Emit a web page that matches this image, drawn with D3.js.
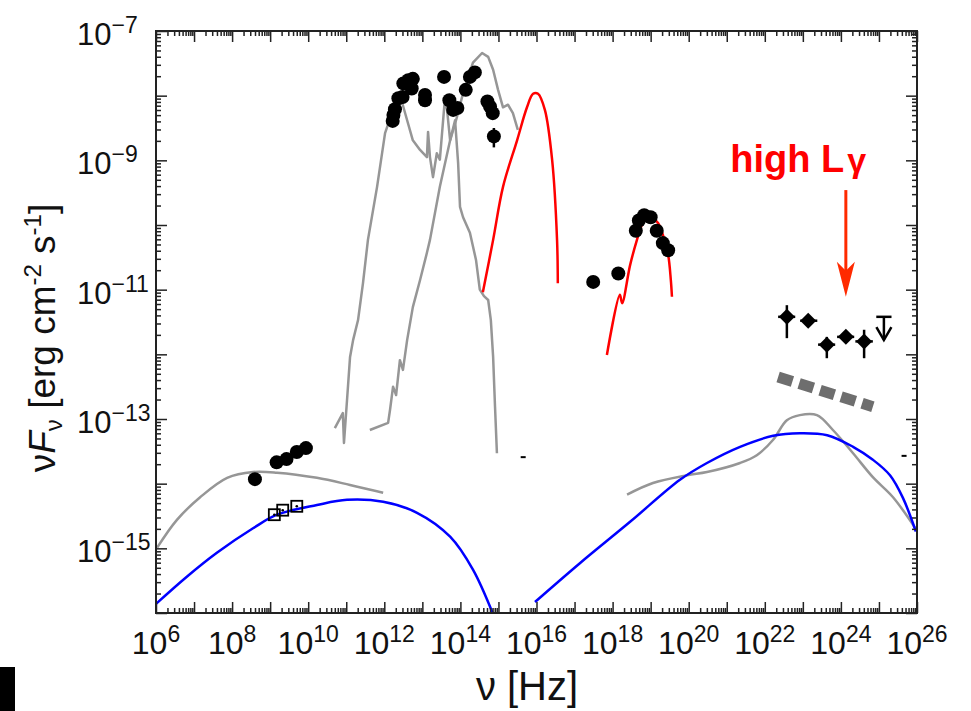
<!DOCTYPE html>
<html><head><meta charset="utf-8">
<script src="https://cdn.jsdelivr.net/npm/d3@7"></script>
<style>body{margin:0;background:#fff}svg{display:block}</style>
</head><body>
<svg id="c" width="971" height="711"></svg>
<script>
// ---------- DATA (log10 nu [Hz], log10 nuFnu [erg cm^-2 s^-1]) ----------
const xTickExps = [6, 8, 10, 12, 14, 16, 18, 20, 22, 24, 26];
const yTickExps = [-7, -9, -11, -13, -15];

const radioDots = [[8.60,-13.93],[9.17,-13.67],[9.43,-13.62],[9.70,-13.51],[9.94,-13.45]];
const radioSquares = [[9.11,-14.48],[9.33,-14.41],[9.70,-14.35]];

const irDots = [[12.22,-8.39],[12.24,-8.30],[12.28,-8.21],[12.37,-8.04],[12.48,-8.02],
  [12.50,-7.81],[12.63,-7.76],[12.75,-7.74],[12.72,-7.89],[13.07,-7.99],[13.07,-8.07],
  [13.57,-7.71],[13.71,-8.07],[13.81,-8.22],[13.92,-8.19],[14.14,-7.91],[14.25,-7.71],
  [14.38,-7.64],[14.71,-8.09],[14.78,-8.17],[14.85,-8.27],[14.88,-8.63]];
// [log nu, low, high]
const irErrors = [[14.71,-8.16,-8.03],[14.78,-8.25,-8.10],[14.85,-8.36,-8.20],[14.88,-8.80,-8.50]];

const xrayDots = [[17.49,-10.88],[18.15,-10.75],[18.61,-10.09],[18.69,-9.93],[18.83,-9.85],
  [19.00,-9.88],[19.16,-10.09],[19.32,-10.28],[19.46,-10.39]];

// gamma: nu, f, nuLo, nuHi, fLo, fHi
const gammaNu   = [22.58, 23.14, 23.63, 24.13, 24.61];
const gammaF    = [-11.42, -11.48, -11.85, -11.73, -11.80];
const gammaNuLo = [22.35, 22.93, 23.40, 23.90, 24.38];
const gammaNuHi = [22.80, 23.38, 23.85, 24.35, 24.84];
const gammaFLo  = [-11.75, -11.56, -12.06, -11.80, -12.06];
const gammaFHi  = [-11.24, -11.40, -11.73, -11.66, -11.62];
const gammaUL = {nu: 25.13, nuLo: 24.93, nuHi: 25.33, f: -11.42, fEnd: -11.78};

const fermiDashed = [[22.35,-12.35],[24.84,-12.81]];

const grayRadio = [[6.03,-14.99],[6.55,-14.56],[7.16,-14.21],[7.87,-13.91],[8.55,-13.82],
  [9.18,-13.83],[10.23,-13.91],[11.10,-14.02],[11.97,-14.14]];

const grayIR1 = [[10.70,-13.14],[10.91,-12.91],[10.94,-13.37],[11.02,-12.71],[11.10,-12.04],
  [11.18,-11.78],[11.31,-11.47],[11.44,-10.90],[11.57,-10.23],[11.81,-9.41],[12.02,-8.58],
  [12.20,-8.27],[12.33,-8.11],[12.47,-8.11],[12.60,-8.38],[12.75,-8.69],[12.94,-8.84],
  [13.12,-8.95],[13.15,-8.56],[13.20,-8.95],[13.28,-9.26],[13.38,-8.89],[13.46,-8.99],
  [13.59,-8.07],[13.65,-8.22],[13.73,-8.69],[13.86,-8.38],[13.94,-9.04],[13.99,-9.72],
  [14.07,-9.88],[14.25,-10.12],[14.41,-10.54],[14.51,-11.00],[14.62,-11.10],[14.73,-11.16],
  [14.80,-11.47],[14.86,-12.04],[14.91,-12.81],[14.96,-13.53]];

const grayIR2 = [[11.62,-13.17],[12.10,-13.06],[12.15,-12.86],[12.23,-12.50],[12.31,-12.63],
  [12.41,-12.09],[12.49,-12.24],[12.60,-11.78],[12.75,-11.27],[12.94,-10.85],[13.12,-10.43],
  [13.20,-10.23],[13.46,-9.41],[13.73,-8.69],[13.91,-8.33],[14.07,-7.96],[14.33,-7.49],
  [14.57,-7.34],[14.73,-7.40],[14.86,-7.60],[14.99,-7.91],[15.12,-8.18],[15.25,-8.14],
  [15.38,-8.27],[15.51,-8.53]];

const redDisk = [[14.59,-11.04],[14.86,-10.23],[15.12,-9.41],[15.49,-8.69],[15.75,-8.18],
  [15.91,-7.97],[16.04,-7.97],[16.22,-8.22],[16.41,-8.99],[16.54,-10.23],[16.56,-10.90]];

const redXray = [[17.85,-12.01],[18.19,-11.08],[18.25,-11.21],[18.46,-10.62],[18.64,-10.23],
  [18.77,-10.00],[18.93,-9.89],[19.17,-9.95],[19.32,-10.15],[19.46,-10.46],[19.53,-10.85],[19.56,-11.11]];

const blueLow = [[6.0,-15.86],[6.81,-15.44],[7.60,-15.07],[8.55,-14.69],[9.18,-14.48],[10.23,-14.33],
  [11.02,-14.25],[11.97,-14.28],[12.86,-14.45],[13.73,-14.82],[14.33,-15.33],[14.86,-16.02]];

const blueHigh = [[15.96,-15.83],[17.14,-15.23],[18.46,-14.59],[19.77,-13.94],[20.48,-13.68],
  [21.35,-13.43],[22.22,-13.26],[22.92,-13.22],[23.64,-13.25],[24.32,-13.43],[24.84,-13.63],
  [25.29,-13.87],[25.63,-14.22],[25.97,-14.74]];

const grayHigh = [[18.38,-14.17],[19.06,-13.99],[19.96,-13.87],[20.48,-13.82],[21.35,-13.68],
  [21.79,-13.56],[22.22,-13.32],[22.58,-13.02],[22.92,-12.94],[23.37,-12.94],[23.79,-13.17],
  [24.32,-13.53],[24.84,-13.90],[25.37,-14.21],[25.97,-14.70]];

const strayMarks = [[15.65,-13.59],[25.66,-13.57]];

const annotText = {nu: 21.09, f: -9.18, label: "high L", sub: "γ"};
const annotArrow = {nu: 24.13, fStart: -9.46, fEnd: -11.11};

// ---------- SETUP ----------
const svg = d3.select("#c");
const x = d3.scaleLog().domain([1e6, 1e26]).range([156, 917]);
const y = d3.scaleLog().domain([1e-16, 1e-7]).range([613, 31]);
const P = v => Math.pow(10, v);
const X = lx => x(P(lx)), Y = ly => y(P(ly));

svg.append("rect").attr("width", 971).attr("height", 711).attr("fill", "#fff");
svg.append("defs").append("clipPath").attr("id", "clip")
  .append("rect").attr("x", 156).attr("y", 31).attr("width", 761).attr("height", 582);

const plot = svg.append("g").attr("clip-path", "url(#clip)");
const lineLin = d3.line().x(d => X(d[0])).y(d => Y(d[1]));
const lineSmooth = d3.line().x(d => X(d[0])).y(d => Y(d[1])).curve(d3.curveCatmullRom.alpha(0.5));

function curve(data, color, w, smooth) {
  plot.append("path").datum(data).attr("d", smooth ? lineSmooth : lineLin).attr("fill", "none")
    .attr("stroke", color).attr("stroke-width", w).attr("stroke-linejoin", "round");
}
curve(grayRadio, "#969696", 2.5, true);
curve(grayIR1, "#969696", 2.5, false);
curve(grayIR2, "#969696", 2.5, false);
curve(grayHigh, "#969696", 2.5, true);
curve(redDisk, "#ff0000", 2.5, true);
curve(redXray, "#ff0000", 2.5, true);
curve(blueLow, "#0000ff", 2.5, true);
curve(blueHigh, "#0000ff", 2.5, true);

// fermi dashed
plot.append("path").datum(fermiDashed).attr("d", lineLin).attr("fill", "none")
  .attr("stroke", "#6e6e6e").attr("stroke-width", 11).attr("stroke-dasharray", "15,7");

// stray marks
plot.selectAll(".stray").data(strayMarks).join("line")
  .attr("x1", d => X(d[0]) - 2.5).attr("x2", d => X(d[0]) + 2.5)
  .attr("y1", d => Y(d[1])).attr("y2", d => Y(d[1]))
  .attr("stroke", "#000").attr("stroke-width", 2);

// ir error bars
plot.selectAll(".irerr").data(irErrors).join("line")
  .attr("x1", d => X(d[0])).attr("x2", d => X(d[0]))
  .attr("y1", d => Y(d[1])).attr("y2", d => Y(d[2]))
  .attr("stroke", "#000").attr("stroke-width", 2.5);

// dots
const dots = [].concat(radioDots, irDots, xrayDots);
plot.selectAll(".dot").data(dots).join("circle")
  .attr("cx", d => X(d[0])).attr("cy", d => Y(d[1])).attr("r", 7).attr("fill", "#000");

// squares
plot.selectAll(".sq").data(radioSquares).join("rect")
  .attr("x", d => X(d[0]) - 5.5).attr("y", d => Y(d[1]) - 5.5)
  .attr("width", 11).attr("height", 11).attr("fill", "none")
  .attr("stroke", "#000").attr("stroke-width", 1.8);
plot.selectAll(".sqd").data(radioSquares).join("circle")
  .attr("cx", d => X(d[0])).attr("cy", d => Y(d[1])).attr("r", 1.3).attr("fill", "#000");

// gamma points
const gIdx = d3.range(gammaNu.length);
const gg = plot.append("g");
gg.selectAll(".gx").data(gIdx).join("line")
  .attr("x1", i => X(gammaNuLo[i])).attr("x2", i => X(gammaNuHi[i]))
  .attr("y1", i => Y(gammaF[i])).attr("y2", i => Y(gammaF[i]))
  .attr("stroke", "#000").attr("stroke-width", 2.5);
gg.selectAll(".gy").data(gIdx).join("line")
  .attr("x1", i => X(gammaNu[i])).attr("x2", i => X(gammaNu[i]))
  .attr("y1", i => Y(gammaFLo[i])).attr("y2", i => Y(gammaFHi[i]))
  .attr("stroke", "#000").attr("stroke-width", 2.5);
gg.selectAll(".gd").data(gIdx).join("path")
  .attr("d", i => { const cx = X(gammaNu[i]), cy = Y(gammaF[i]), r = 8;
    return `M${cx},${cy - r}L${cx + r},${cy}L${cx},${cy + r}L${cx - r},${cy}Z`; })
  .attr("fill", "#000");
// upper limit
{
  const cx = X(gammaUL.nu), y0 = Y(gammaUL.f), y1 = Y(gammaUL.fEnd);
  gg.append("line").attr("x1", X(gammaUL.nuLo)).attr("x2", X(gammaUL.nuHi))
    .attr("y1", y0).attr("y2", y0).attr("stroke", "#000").attr("stroke-width", 2.5);
  gg.append("line").attr("x1", cx).attr("x2", cx).attr("y1", y0).attr("y2", y1)
    .attr("stroke", "#000").attr("stroke-width", 2.5);
  gg.append("path").attr("d", `M${cx - 7.5},${y1 - 13}L${cx},${y1}L${cx + 7.5},${y1 - 13}`)
    .attr("fill", "none").attr("stroke", "#000").attr("stroke-width", 2.5);
}

// ---------- AXES ----------
const majors = d3.range(6, 27).map(P);
const minors = [];
for (let e = 6; e < 26; e++) for (let k = 2; k <= 9; k++) minors.push(k * P(e));
const yMajors = d3.range(-16, -6).map(P);
const yMinors = [];
for (let e = -16; e < -7; e++) for (let k = 2; k <= 9; k++) yMinors.push(k * P(e));

function ax(gen, tr, vals, size) {
  const g = svg.append("g").attr("transform", tr)
    .call(gen.tickValues(vals).tickSize(-size).tickFormat(""));
  g.select(".domain").remove();
  g.selectAll(".tick line").attr("stroke", "#222").attr("stroke-width", 1.5);
}
ax(d3.axisBottom(x), "translate(0,613)", majors, 11);
ax(d3.axisBottom(x), "translate(0,613)", minors, 5);
ax(d3.axisTop(x), "translate(0,31)", majors, 11);
ax(d3.axisTop(x), "translate(0,31)", minors, 5);
ax(d3.axisLeft(y), "translate(156,0)", yMajors, 11);
ax(d3.axisLeft(y), "translate(156,0)", yMinors, 5);
ax(d3.axisRight(y), "translate(917,0)", yMajors, 11);
ax(d3.axisRight(y), "translate(917,0)", yMinors, 5);

svg.append("rect").attr("x", 156).attr("y", 31).attr("width", 761).attr("height", 582)
  .attr("fill", "none").attr("stroke", "#222").attr("stroke-width", 2);

const font = "'Liberation Sans', Arial, Helvetica, sans-serif";

// x tick labels
xTickExps.forEach(e => {
  const t = svg.append("text").attr("x", X(e)).attr("y", 654).attr("text-anchor", "middle")
    .attr("font-family", font).attr("fill", "#111");
  t.append("tspan").attr("font-size", 32).text("10");
  t.append("tspan").attr("font-size", 23).attr("dy", -12).text(String(e));
});
// y tick labels
yTickExps.forEach(e => {
  const t = svg.append("text").attr("x", 77).attr("y", Y(e) + 14).attr("text-anchor", "start")
    .attr("font-family", font).attr("fill", "#111");
  t.append("tspan").attr("font-size", 31).text("10");
  t.append("tspan").attr("font-size", 23).attr("dy", -12).text("\u2212" + String(-e));
});

// axis titles
svg.append("text").attr("x", 527).attr("y", 700).attr("text-anchor", "middle")
  .attr("font-family", font).attr("font-size", 40).attr("fill", "#111").text("ν [Hz]");
{
  const t = svg.append("text").attr("transform", "translate(55,338) rotate(-90)")
    .attr("text-anchor", "middle").attr("font-family", font).attr("font-size", 37).attr("fill", "#111");
  t.append("tspan").text("ν");
  t.append("tspan").attr("font-style", "italic").text("F");
  t.append("tspan").attr("font-size", 24).attr("dy", 7).text("ν");
  t.append("tspan").attr("dy", -7).text(" [erg cm");
  t.append("tspan").attr("font-size", 24).attr("dy", -14).text("-2");
  t.append("tspan").attr("dy", 14).text(" s");
  t.append("tspan").attr("font-size", 24).attr("dy", -14).text("-1");
  t.append("tspan").attr("dy", 14).text("]");
}

// annotation
{
  const t = svg.append("text").attr("x", X(annotText.nu)).attr("y", Y(annotText.f))
    .attr("font-family", font).attr("font-weight", "bold").attr("fill", "#ff0000");
  t.append("tspan").attr("font-size", 38).text(annotText.label);
  t.append("tspan").attr("font-size", 34).attr("dx", 3).text(annotText.sub);

  const cx = X(annotArrow.nu), y0 = Y(annotArrow.fStart), y1 = Y(annotArrow.fEnd);
  svg.append("line").attr("x1", cx).attr("x2", cx).attr("y1", y0).attr("y2", y1 - 20)
    .attr("stroke", "#ff2a00").attr("stroke-width", 3);
  svg.append("path").attr("d", `M${cx},${y1}L${cx - 9},${y1 - 35}L${cx},${y1 - 26}L${cx + 9},${y1 - 35}Z`)
    .attr("fill", "#ff2a00");
}

// black block bottom-left
svg.append("rect").attr("x", 0).attr("y", 667).attr("width", 15).attr("height", 44).attr("fill", "#000");
</script>
</body></html>
